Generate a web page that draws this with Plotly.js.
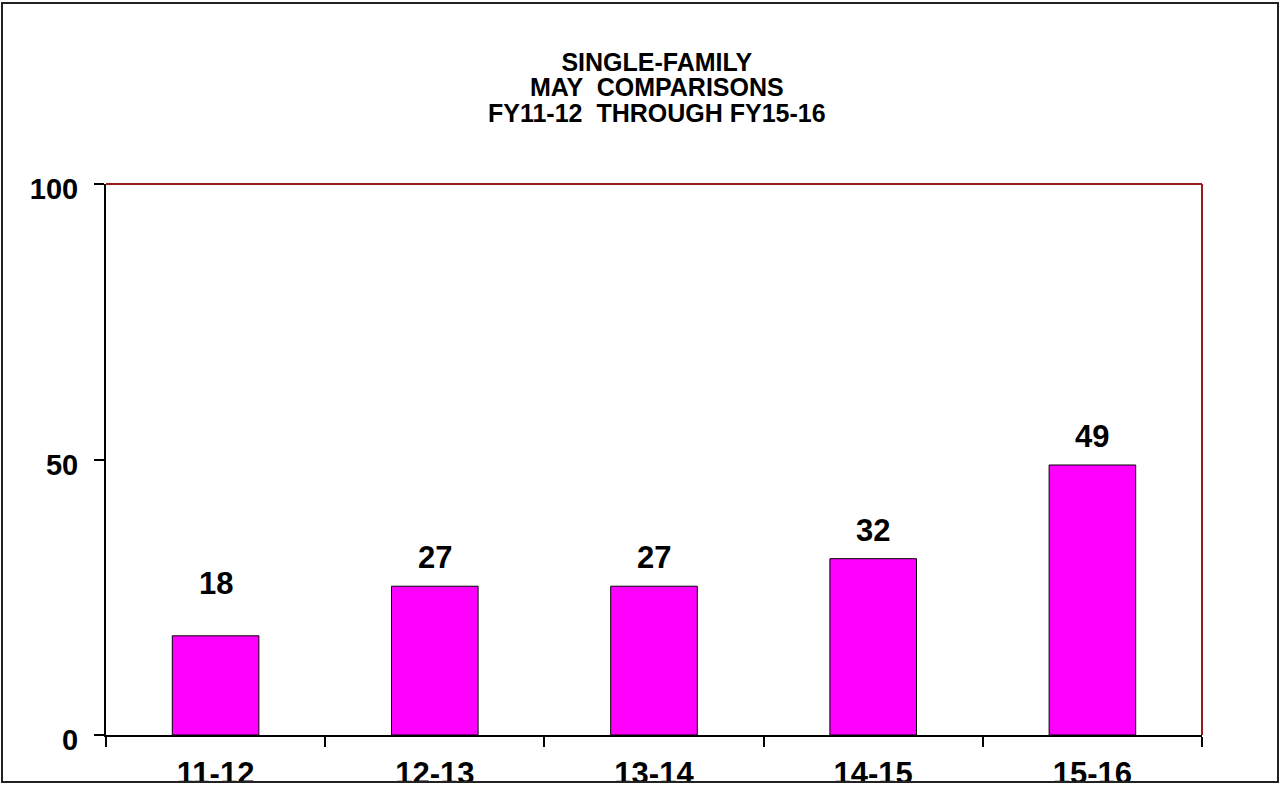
<!DOCTYPE html>
<html>
<head>
<meta charset="utf-8">
<script src="https://cdn.plot.ly/plotly-3.0.1.min.js"></script>
<style>html,body{margin:0;padding:0;background:#fff;}#chart{width:1282px;height:786px;}</style>
</head>
<body>
<div id="chart"></div>
<script>
const categories = ["11-12", "12-13", "13-14", "14-15", "15-16"];
const values = [18, 27, 27, 32, 49];
const yTickVals = [0, 50, 100];
const titleLines = ["SINGLE-FAMILY", "MAY  COMPARISONS", "FY11-12  THROUGH FY15-16"];

const FONT = "Liberation Sans, Arial, sans-serif";
const L = 106, R = 1202, T = 184, B = 735, W = 1282, H = 786;
const pw = R - L, ph = B - T;
const px = v => (v - L) / pw;
const py = v => (B - v) / ph;

const trace = {
  type: "bar",
  x: categories,
  y: values,
  width: 0.395,
  marker: { color: "#FF00FF", line: { color: "#000000", width: 1 } },
  hoverinfo: "skip"
};

const annotations = [];
// multi-line title in one text block; base size sets the tight line spacing
annotations.push({
  xref: "paper", yref: "paper", x: 0.5, xshift: 3, y: py(87),
  text: titleLines.map(t => '<span style="font-size:25px">' + t + '</span>').join("<br>"),
  showarrow: false, xanchor: "center", yanchor: "middle", align: "center",
  font: { family: FONT, size: 19.6, color: "#000", weight: "bold" }
});
values.forEach((v, i) => {
  annotations.push({
    xref: "x", yref: "y", x: categories[i], y: v,
    text: String(v), showarrow: false, xanchor: "center", yanchor: "bottom",
    yshift: i === 0 ? 33 : 9,
    font: { family: FONT, size: 31, color: "#000", weight: "bold" }
  });
});

const shapes = [
  { type: "line", xref: "paper", yref: "paper", x0: 0, x1: 1, y0: 1, y1: 1, line: { color: "#9a1b1b", width: 2 }, layer: "above" },
  { type: "line", xref: "paper", yref: "paper", x0: 1, x1: 1, y0: 0, y1: 1, line: { color: "#9a1b1b", width: 2 }, layer: "above" },
  { type: "rect", xref: "paper", yref: "paper", x0: px(0), x1: px(W), y0: py(H + 5), y1: py(783), fillcolor: "#ffffff", line: { width: 0 }, layer: "above" },
  { type: "rect", xref: "paper", yref: "paper", x0: px(2), x1: px(1278), y0: py(782), y1: py(3), line: { color: "#222222", width: 2 }, layer: "above" }
];

const layout = {
  width: W, height: H,
  margin: { l: L, r: W - R, t: T, b: H - B, pad: 0 },
  paper_bgcolor: "#ffffff",
  plot_bgcolor: "#ffffff",
  showlegend: false,
  font: { family: FONT, color: "#000" },
  xaxis: {
    type: "category",
    categoryorder: "array", categoryarray: categories,
    showline: true, linecolor: "#000", linewidth: 2,
    ticks: "outside", ticklen: 10, tickwidth: 2, tickcolor: "#000",
    tickson: "boundaries",
    showgrid: false, zeroline: false,
    tickfont: { family: FONT, size: 31, color: "#000", weight: "bold" },
    ticklabelstandoff: 10,
    fixedrange: true
  },
  yaxis: {
    range: [0, 100],
    tickvals: yTickVals, ticktext: yTickVals.map(String),
    showline: true, linecolor: "#000", linewidth: 2,
    ticks: "outside", ticklen: 10, tickwidth: 2, tickcolor: "#000",
    showgrid: false, zeroline: false,
    tickfont: { family: FONT, size: 29, color: "#000", weight: "bold" },
    ticklabelstandoff: 10,
    ticklabelshift: 5,
    fixedrange: true
  },
  annotations: annotations,
  shapes: shapes
};

Plotly.newPlot("chart", [trace], layout, { staticPlot: true, displayModeBar: false });
</script>
</body>
</html>
